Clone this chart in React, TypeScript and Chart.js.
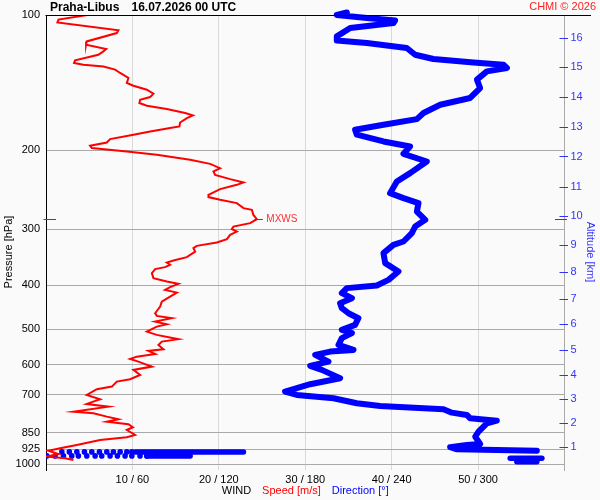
import React, { useEffect, useRef } from 'react';
import { Chart, registerables } from 'chart.js';

Chart.register(...registerables);

const FONT = "'Liberation Sans', Arial, sans-serif";

// Pressure axis ticks (hPa)
const pressureTicks = [100, 200, 300, 400, 500, 600, 700, 850, 925, 1000];
// Altitude axis: km labels and the pressure at which each sits
const altKm = [1, 2, 3, 4, 5, 6, 7, 8, 9, 10, 11, 12, 13, 14, 15, 16];
const altPressure = [913.9, 810.4, 715.3, 632.6, 556.5, 487.9, 428.3, 373.0, 324.8, 280.4, 240.9, 206.5, 177.3, 152.6, 130.8, 112.3];
// Bottom axis ticks
const speedTicks = [10, 20, 30, 40, 50];
const dirTickLabels = [60, 120, 180, 240, 300];

// Wind speed profile
const speedPressure = [
  100, 102.4, 103.9, 108.2, 109.7, 114.5, 116.5, 119.1, 120.5, 122.6,
  126.2, 127.9, 129.0, 130.2, 132.3, 134.6, 138.1, 141.7, 143.7, 146.7,
  149.7, 152.3, 154.4, 157.0, 159.2, 161.9, 165.3, 167.3, 169.6, 173.5,
  177.0, 178.5, 181.6, 184.7, 188.9, 192.2, 195.5, 197.8, 201.3, 204.7,
  210.1, 214.5, 219.3, 223.0, 226.9, 231.9, 235.9, 238.8, 244.1, 251.3,
  254.3, 257.9, 262.3, 269.1, 271.5, 278.6, 284.7, 290.6, 295.7, 299.7,
  303.4, 308.6, 315.4, 321.0, 326.5, 330.4, 336.2, 345.9, 352.0, 355.6,
  359.8, 364.1, 367.9, 375.5, 385.2, 392.0, 396.7, 403.5, 409.1, 414.8,
  423.4, 434.5, 445.7, 461.1, 467.5, 473.1, 481.4, 487.9, 493.9, 506.7,
  515.3, 526.8, 533.3, 542.5, 554.6, 559.4, 568.1, 576.1, 582.9, 591.0,
  606.3, 616.6, 632.6, 646.8, 654.6, 671.7, 680.8, 701.0, 716.6, 734.1,
  744.4, 763.7, 770.0, 783.5, 794.1, 803.9, 814.7, 827.4, 839.0, 860.8,
  871.0, 883.2, 905.9, 921.4, 932.8, 948.8, 962.0, 969.9, 978.3,
];
const speedValues = [
  4.79, 1.44, 1.32, 8.38, 8.19, 4.72, 4.64, 6.96, 6.64, 6.06,
  3.37, 3.25, 4.33, 6.64, 8.0, 8.58, 9.54, 9.35, 10.12, 11.67,
  12.43, 12.05, 10.89, 10.81, 11.67, 13.98, 16.1, 16.99, 16.3, 15.52,
  15.44, 14.36, 12.05, 10.12, 7.42, 7.04, 5.1, 5.3, 9.35, 12.82,
  16.68, 18.99, 20.15, 19.38, 19.57, 21.31, 22.85, 22.08, 20.15, 18.8,
  18.8, 20.15, 22.08, 22.85, 23.82, 24.0, 24.4, 23.62, 21.69, 21.5,
  22.08, 21.31, 20.93, 19.77, 17.45, 17.06, 17.26, 16.3, 14.75, 13.98,
  14.36, 13.78, 12.63, 12.25, 12.43, 13.98, 15.32, 14.36, 13.78, 15.14,
  14.36, 13.4, 13.21, 12.63, 12.82, 14.56, 12.63, 13.98, 12.82, 11.67,
  12.82, 15.32, 13.4, 13.01, 13.59, 11.85, 12.63, 10.51, 9.73, 10.69,
  12.25, 10.12, 10.89, 9.73, 8.19, 7.62, 5.88, 4.72, 6.26, 4.72,
  7.22, 3.17, 5.49, 7.04, 8.38, 7.04, 9.54, 10.05, 9.35, 10.31,
  9.35, 6.26, 3.56, 1.63, 0.28, 1.44, 0.09, 2.21, 3.17,
];

// Wind direction profile
const dirPressure = [
  98.7, 100, 101.5, 102.8, 104.2, 106.9, 111.6, 113.9, 115.4, 118.4,
  122.6, 125.3, 127.5, 129.0, 131.2, 133.5, 139.3, 145.4, 153.0, 158.4,
  165.3, 170.5, 175.5, 180.1, 184.7, 191.2, 196.2, 203.7, 211.9, 224.9,
  234.8, 249.2, 255.6, 262.3, 273.9, 285.7, 295.7, 305.9, 319.3, 324.8,
  338.9, 356.7, 372.4, 388.6, 400.2, 405.5, 416.1, 426.9, 438.0, 449.4,
  461.1, 473.1, 489.6, 502.2, 510.8, 524.1, 542.5, 556.5, 561.4, 571.0,
  591.0, 604.2, 616.6, 643.6, 663.5, 671.7, 689.1, 701.0, 712.9, 731.4,
  741.6, 754.3, 767.7, 776.7, 790.1, 799.9, 810.6, 846.3, 868.2, 901.4,
  905.9, 916.6, 926.1, 932.8,
];
const dirValues = [
  208.9, 201.9, 222.8, 242.4, 241.2, 211.2, 201.9, 201.9, 222.8, 250.5,
  256.3, 269.0, 296.8, 317.6, 320.0, 306.1, 299.2, 301.4, 294.5, 273.7,
  262.1, 257.5, 234.3, 214.6, 215.8, 234.3, 252.8, 248.2, 264.4, 252.8,
  243.6, 238.9, 248.2, 258.6, 257.5, 263.3, 256.3, 254.0, 248.2, 241.2,
  234.3, 235.5, 244.7, 237.8, 229.7, 208.9, 205.4, 212.4, 204.2, 205.4,
  210.0, 216.9, 214.6, 205.4, 212.4, 205.4, 203.1, 213.5, 197.3, 186.9,
  196.1, 183.4, 191.5, 204.2, 183.4, 177.6, 166.0, 174.2, 199.6, 215.8,
  232.0, 276.0, 281.8, 292.2, 294.5, 313.0, 306.1, 300.3, 298.0, 301.4,
  292.2, 280.6, 285.3, 340.8,
];

// Near-surface direction samples (two rows of separate dots)
const dotRow1Pressure = 938.8;
const dotRow1Dirs = [11.0, 16.2, 21.4, 26.7, 31.8, 37.1, 42.2, 46.8, 51.5, 56.1, 59.6];
const dotRow2Pressure = 958.3;
const dotRow2Dirs = [0.6, 6.3, 12.1, 17.9, 22.5, 28.3, 34.1, 38.7, 44.5, 49.6, 54.9, 59.6, 65.3, 70.0];
// Near-surface dense direction bands
const bandPressure = [938.8, 958.3, 969.9, 987.0];
const bandFrom = [62.0, 70.0, 322.3, 326.9];
const bandTo = [137.1, 100.1, 344.3, 340.8];

const RED = '#ff0000';
const BLUE = '#0000ff';
const AXIS_BLUE = '#3333ff';
const GRID_H = '#a9a9a9';
const GRID_V = '#d9d9d9';

const overlayPlugin = {
  id: 'overlay',
  beforeDraw(chart: any) {
    const { ctx } = chart;
    ctx.save();
    ctx.fillStyle = '#fafafa';
    ctx.fillRect(0, 0, chart.width, chart.height);
    ctx.restore();
  },
  afterDraw(chart: any) {
    const { ctx, chartArea, scales } = chart;
    ctx.save();
    // top frame line
    ctx.strokeStyle = '#000';
    ctx.lineWidth = 1;
    ctx.beginPath();
    ctx.moveTo(chartArea.left - 0.5, chartArea.top + 0.5);
    ctx.lineTo(591, chartArea.top + 0.5);
    ctx.stroke();

    // altitude tick marks straddling the right edge
    const y2 = scales.y2;
    ctx.strokeStyle = AXIS_BLUE;
    y2.ticks.forEach((t: any) => {
      const py = Math.round(y2.getPixelForValue(t.value)) + 0.5;
      ctx.beginPath();
      ctx.moveTo(chartArea.right - 5, py);
      ctx.lineTo(chartArea.right + 3.5, py);
      ctx.stroke();
    });

    // maximum wind marker
    let mi = 0;
    speedValues.forEach((v, i) => {
      if (v > speedValues[mi]) mi = i;
    });
    const mx = scales.x.getPixelForValue(speedValues[mi]);
    const my = Math.round(scales.y.getPixelForValue(speedPressure[mi])) + 0.5;
    ctx.strokeStyle = RED;
    ctx.beginPath();
    ctx.moveTo(mx - 2.5, my);
    ctx.lineTo(mx + 6, my);
    ctx.moveTo(chartArea.left - 2.5, my);
    ctx.lineTo(chartArea.left + 10, my);
    ctx.moveTo(chartArea.right - 9.5, my);
    ctx.lineTo(chartArea.right + 2.5, my);
    ctx.stroke();
    ctx.fillStyle = '#ff3030';
    ctx.font = `10px ${FONT}`;
    ctx.textBaseline = 'middle';
    ctx.textAlign = 'left';
    ctx.fillText('MXWS', mx + 9.5, my);

    // header
    ctx.fillStyle = '#000';
    ctx.font = `bold 12px ${FONT}`;
    ctx.fillText('Praha-Libus', 50, 7.5);
    ctx.fillText('16.07.2026 00 UTC', 131.5, 7.5);
    ctx.fillStyle = '#ff2020';
    ctx.font = `11px ${FONT}`;
    ctx.textAlign = 'right';
    ctx.fillText('CHMI \u00a9 2026', 596, 7);

    // side axis titles
    ctx.font = `11px ${FONT}`;
    ctx.textAlign = 'center';
    ctx.save();
    ctx.translate(8.5, 252);
    ctx.rotate(-Math.PI / 2);
    ctx.fillStyle = '#000';
    ctx.fillText('Pressure [hPa]', 0, 0);
    ctx.restore();
    ctx.save();
    ctx.translate(590, 252);
    ctx.rotate(Math.PI / 2);
    ctx.fillStyle = AXIS_BLUE;
    ctx.fillText('Altitude [km]', 0, 0);
    ctx.restore();

    // multi-colour bottom axis title
    const parts: [string, string][] = [
      ['WIND', '#000'],
      ['Speed [m/s]', RED],
      ['Direction [\u00b0]', BLUE],
    ];
    const gap = 11;
    ctx.textAlign = 'left';
    const widths = parts.map((p) => ctx.measureText(p[0]).width);
    const total = widths.reduce((a, b) => a + b, 0) + gap * (parts.length - 1);
    let tx = (chartArea.left + chartArea.right) / 2 - total / 2;
    parts.forEach((p, i) => {
      ctx.fillStyle = p[1];
      ctx.fillText(p[0], tx, 491);
      tx += widths[i] + gap;
    });
    ctx.restore();
  },
};

export default function App() {
  const ref = useRef<HTMLCanvasElement>(null);

  useEffect(() => {
    if (!ref.current) return;
    Chart.defaults.font.family = FONT;

    const lineBase = {
      showLine: true,
      pointRadius: 0,
      tension: 0,
      xAxisID: 'xDir',
      yAxisID: 'y',
    };

    const datasets: any[] = [
      {
        label: 'Speed',
        data: speedPressure.map((p, i) => ({ x: speedValues[i], y: p })),
        showLine: true,
        pointRadius: 0,
        borderColor: RED,
        borderWidth: 2,
        tension: 0,
        xAxisID: 'x',
        yAxisID: 'y',
      },
      {
        ...lineBase,
        label: 'Direction',
        data: dirPressure.map((p, i) => ({ x: dirValues[i], y: p })),
        borderColor: BLUE,
        borderWidth: 6,
        borderJoinStyle: 'round',
        borderCapStyle: 'round',
        clip: false,
      },
      ...bandPressure.map((p, i) => ({
        ...lineBase,
        label: 'Direction band ' + i,
        data: [
          { x: bandFrom[i], y: p },
          { x: bandTo[i], y: p },
        ],
        borderColor: BLUE,
        borderWidth: 5.5,
        borderCapStyle: 'round',
      })),
      {
        label: 'Direction samples',
        data: [
          ...dotRow1Dirs.map((d) => ({ x: d, y: dotRow1Pressure })),
          ...dotRow2Dirs.map((d) => ({ x: d, y: dotRow2Pressure })),
        ],
        showLine: false,
        pointRadius: 2.8,
        pointBorderWidth: 0,
        pointBackgroundColor: BLUE,
        backgroundColor: BLUE,
        xAxisID: 'xDir',
        yAxisID: 'y',
      },
    ];

    const chart = new Chart(ref.current, {
      type: 'scatter',
      data: { datasets },
      plugins: [overlayPlugin],
      options: {
        animation: false,
        responsive: false,
        devicePixelRatio: 1,
        layout: { padding: { top: 15, left: 0, right: 0, bottom: 0 } },
        plugins: {
          legend: { display: false },
          tooltip: { enabled: false },
          title: { display: false },
        },
        scales: {
          x: {
            type: 'linear',
            position: 'bottom',
            min: 0,
            max: 60,
            afterBuildTicks: (s: any) => {
              s.ticks = speedTicks.map((v) => ({ value: v }));
            },
            afterFit: (s: any) => {
              s.height = 30;
            },
            grid: { color: GRID_V, drawTicks: false, lineWidth: 1 },
            border: { display: false },
            ticks: {
              padding: 3,
              color: '#000',
              font: { size: 11, family: FONT },
              autoSkip: false,
              maxRotation: 0,
              callback: (v: any) => {
                const i = speedTicks.indexOf(Number(v));
                return `${v} / ${dirTickLabels[i]}`;
              },
            },
          },
          xDir: {
            type: 'linear',
            display: false,
            min: 0,
            max: 360,
          },
          y: {
            type: 'logarithmic',
            position: 'left',
            reverse: true,
            min: 100,
            max: 1030,
            afterBuildTicks: (s: any) => {
              s.ticks = pressureTicks.map((v) => ({ value: v }));
            },
            afterFit: (s: any) => {
              s.width = 46;
            },
            grid: {
              color: (c: any) => (c.tick && c.tick.value === 100 ? '#000' : GRID_H),
              drawTicks: false,
              lineWidth: 1,
            },
            border: { display: true, color: '#000', width: 1 },
            ticks: {
              padding: 6,
              color: '#000',
              autoSkip: false,
              font: { size: 11, family: FONT },
              callback: (v: any) => String(v),
            },
            title: { display: false },
          },
          y2: {
            type: 'logarithmic',
            position: 'right',
            reverse: true,
            min: 100,
            max: 1030,
            afterBuildTicks: (s: any) => {
              s.ticks = altPressure.map((v) => ({ value: v }));
            },
            afterFit: (s: any) => {
              s.width = 35.5;
            },
            grid: { display: true, drawOnChartArea: false, drawTicks: false },
            border: { display: true, color: GRID_H, width: 1 },
            ticks: {
              padding: 6,
              color: AXIS_BLUE,
              autoSkip: false,
              font: { size: 11, family: FONT },
              callback: (v: any) => {
                const i = altPressure.indexOf(Number(v));
                return i >= 0 ? String(altKm[i]) : '';
              },
            },
            title: { display: false },
          },
        },
      } as any,
    });

    return () => chart.destroy();
  }, []);

  return (
    <div
      style={{
        position: 'fixed',
        left: 0,
        top: 0,
        width: 600,
        height: 500,
        background: '#fafafa',
      }}
    >
      <canvas ref={ref} width={600} height={500} style={{ display: 'block' }} />
    </div>
  );
}
